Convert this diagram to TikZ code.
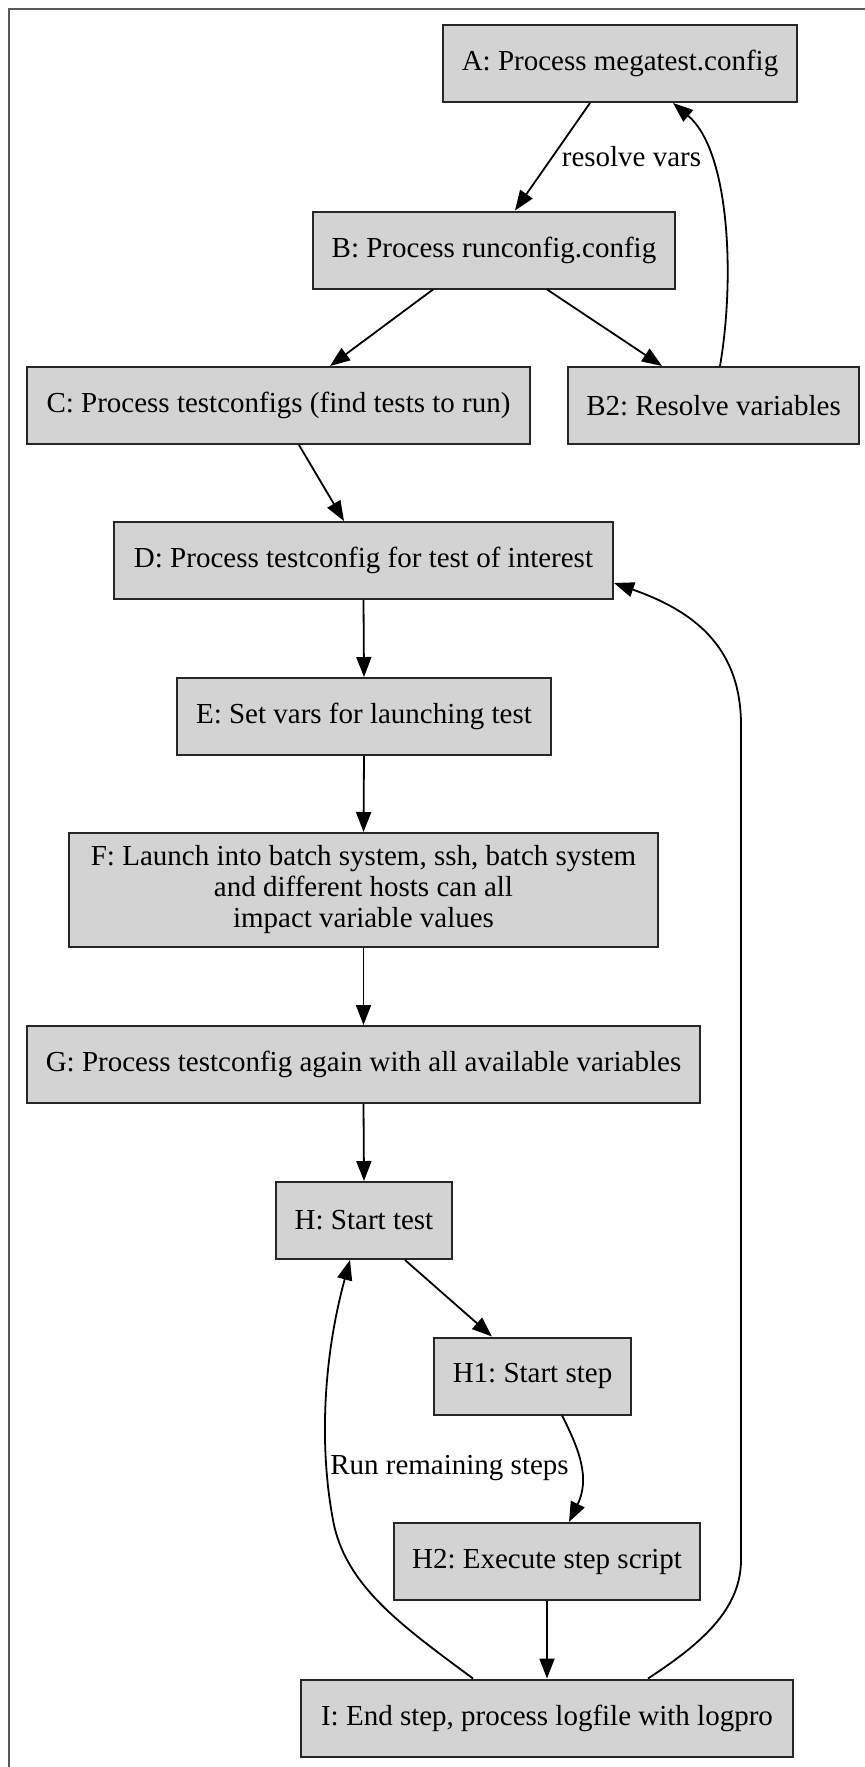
\documentclass[tikz,border=0pt]{standalone}
\usepackage{fontspec}
\setmainfont{Liberation Serif}
\usetikzlibrary{arrows.meta,calc}
\definecolor{nodegray}{RGB}{211,211,211}
\begin{document}
\frenchspacing
\begin{tikzpicture}[x=0.5pt,y=-0.5pt,
  box/.style={draw=black!85, line width=1pt, fill=nodegray, minimum height=38.5pt,
    inner sep=0pt, font=\fontsize{14.5}{15.5}\selectfont\frenchspacing, align=center},
  arr/.style={line width=0.9pt, -{Triangle[length=10pt,width=7.5pt]}},
  lab/.style={font=\fontsize{14.5}{15.5}\selectfont\frenchspacing, inner sep=0pt}]
\useasboundingbox (0,0) rectangle (865,1767);
\begin{scope}
\clip (0,0) rectangle (865,1767);
\draw[line width=1pt, black!65] (9,1800) -- (9,8.5) -- (900,8.5);
\end{scope}

\node[box, minimum width=177pt]   (A)  at (620,63.5)   {A: Process megatest.config};
\node[box, minimum width=181pt]   (B)  at (494,250)    {B: Process runconfig.config};
\node[box, minimum width=251.5pt] (C)  at (278.5,405.5) {C: Process testconfigs (find tests to run)};
\node[box, minimum width=145.5pt] (B2) at (713.5,405.5) {B2: Resolve variables};
\node[box, minimum width=249.5pt] (D)  at (363.5,560.5) {D: Process testconfig for test of interest};
\node[box, minimum width=187pt]   (E)  at (364,716.5)  {E: Set vars for launching test};
\node[box, minimum width=294.5pt, minimum height=57pt] (F) at (363.5,890)
  {F: Launch into batch system, ssh, batch system\\and different hosts can all\\impact variable values};
\node[box, minimum width=336.5pt] (G)  at (363.5,1064.5) {G: Process testconfig again with all available variables};
\node[box, minimum width=88pt]    (H)  at (364,1220.5) {H: Start test};
\node[box, minimum width=98.5pt]  (H1) at (532.5,1376) {H1: Start step};
\node[box, minimum width=153pt]   (H2) at (547,1561.5) {H2: Execute step script};
\node[box, minimum width=246pt]   (I)  at (547,1718)   {I: End step, process logfile with logpro};

\draw[arr] ($(A.south)+(-30,0)$) -- ($(B.north)+(21,0)$)
  node[lab] at (631.5,157) {resolve vars};
\draw[arr] ($(B.south)+(-61,0)$) -- ($(C.north)+(51.5,0)$);
\draw[arr] ($(B.south)+(53,0)$) -- ($(B2.north)+(-51.5,0)$);
\draw[arr] ($(B2.north)+(6.5,0)$) .. controls +(15,-87) and +(57,48) .. ($(A.south)+(53,0)$);
\draw[arr] ($(C.south)+(20.5,0)$) -- ($(D.north)+(-19.5,0)$);
\draw[arr] (D.south) -- (E.north);
\draw[arr] (E.south) -- (F.north);
\draw[arr] (F.south) -- (G.north);
\draw[arr] (G.south) -- (H.north);
\draw[arr] ($(H.south)+(41,0)$) -- ($(H1.north)+(-40.5,0)$);
\draw[arr] ($(H1.south)+(29.5,0)$) .. controls +(18,35) and +(21,-43) .. ($(H2.north)+(22,0)$);
\draw[arr] (H2.south) -- (I.north);
\draw[arr] ($(I.north)+(-74,0)$) .. controls +(-73,-54) and +(12,65) .. (333,1520)
  .. controls +(-15,-80) and +(-25,91) .. ($(H.south)+(-14,0)$)
  node[lab] at (449.5,1468) {Run remaining steps};
\draw[arr] ($(I.north)+(101,0)$) .. controls +(52,-34) and +(0,50) .. (741,1560)
  -- (741,725) .. controls +(0,-80) and +(77,27) .. ($(D.east)+(0,22.5)$);
\end{tikzpicture}
\end{document}
